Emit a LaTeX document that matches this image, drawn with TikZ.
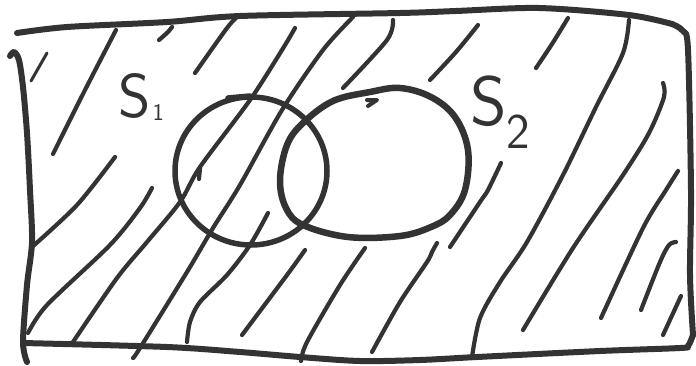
\documentclass[tikz,border=0pt]{standalone}
\usepackage{fontspec}
\definecolor{ink}{HTML}{333333}
\tikzset{
  frame/.style={draw=ink, line width=6pt, line cap=round, line join=round},
  setline/.style={draw=ink, line width=5.5pt, line cap=round, line join=round},
  hatch/.style={draw=ink, line width=4.2pt, line cap=round, line join=round},
  lbl/.style={text=ink, inner sep=0pt, anchor=base west, font=\sffamily}
}
\begin{document}
\begin{tikzpicture}[x=1pt,y=-1pt]
\useasboundingbox (0,0) rectangle (696,365);
% frame
\draw[frame] plot[smooth, tension=0.5] coordinates {(17,33) (67,27) (167,22) (240,16) (400,13) (456,11) (539,8) (629,15) (672,24)};
\draw[frame] plot[smooth, tension=0.5] coordinates {(672,24) (683,31) (688,50) (691,190) (690,275) (693,335)};
\draw[frame] plot[smooth, tension=0.5] coordinates {(693,335) (688,346) (680,348) (600,351) (477,357) (420,360) (360,361) (300,357) (240,352) (167,347) (23,343)};
\draw[frame] plot[smooth, tension=0.5] coordinates {(10,56) (14,52) (19,60) (23,87) (27,133) (30,190) (32,242) (27,285) (23,342) (27,362)};
% hatching
\draw[hatch, line width=3pt] plot[smooth] coordinates {(47,53) (31,81)};
\draw[hatch] plot[smooth] coordinates {(116,30) (85,90) (53,154)};
\draw[hatch] plot[smooth] coordinates {(172,27) (168,32) (159,40)};
\draw[hatch] plot[smooth] coordinates {(238,16) (227,28) (195,73)};
\draw[hatch] plot[smooth] coordinates {(115,157) (77,205) (32,247)};
\draw[hatch] plot[smooth] coordinates {(152,188) (140,208) (110,245) (47,305) (28,333)};
\draw[hatch] plot[smooth] coordinates {(295,28) (282,50) (250,100) (200,167) (180,202) (147,242) (117,278) (73,342)};
\draw[hatch] (200,168) -- (199,179);
\draw[hatch] plot[smooth] coordinates {(353,17) (323,50) (282,110) (240,185) (213,228) (187,272) (140,348) (133,358)};
\draw[hatch] plot[smooth] coordinates {(393,20) (387,40) (343,88)};
\draw[hatch] plot[smooth] coordinates {(478,25) (456,52) (430,80)};
\draw[hatch] plot[smooth] coordinates {(568,18) (552,44) (536,68)};
\draw[hatch] plot[smooth] coordinates {(268,213) (250,245) (227,275) (200,302) (190,322) (187,342)};
\draw[hatch] plot[smooth] coordinates {(305,250) (287,275) (242,335)};
\draw[hatch] plot[smooth] coordinates {(365,248) (340,285) (307,342) (301,361)};
\draw[hatch] plot[smooth] coordinates {(437,243) (432,252) (427,262) (400,302) (372,352)};
\draw[hatch] plot[smooth] coordinates {(501,163) (488,190) (480,202) (450,247)};
\draw[hatch] plot[smooth] coordinates {(629,20) (623,53) (596,107) (563,175) (527,242) (500,282) (480,318) (472,357)};
\draw[hatch] plot[smooth] coordinates {(663,83) (664,97) (649,133) (623,175) (573,248) (523,330)};
\draw[hatch] plot[smooth] coordinates {(678,171) (666,190) (643,228) (601,318)};
\draw[hatch] plot[smooth] coordinates {(676,242) (669,245) (660,262) (641,310)};
\draw[hatch] plot[smooth] coordinates {(681,296) (663,335)};
% S1
\draw[setline] (251,171) ellipse [x radius=76, y radius=74];
\draw[setline] (228,98) -- (250,96);
% S2
\draw[setline, line width=6.5pt] plot[smooth cycle, tension=0.6] coordinates {(303,123) (333,101) (370,92) (400,88) (431,97) (455,117) (468,150) (465,190) (450,215) (431,227) (400,236) (348,237) (303,225) (286,208) (280,180) (287,145)};
\draw[setline, line width=4pt] (367,100) -- (377,100) -- (368,106);
% labels
\node[lbl] (s1) at (118,117) {{\fontsize{62}{62}\selectfont S}\hspace{2pt}\raisebox{-3pt}{\fontsize{24}{24}\selectfont 1}};
\node[lbl] (s2) at (470,125) {{\fontsize{70}{70}\selectfont S}\raisebox{-23pt}{\fontsize{50}{50}\selectfont 2}};
\end{tikzpicture}
\end{document}
